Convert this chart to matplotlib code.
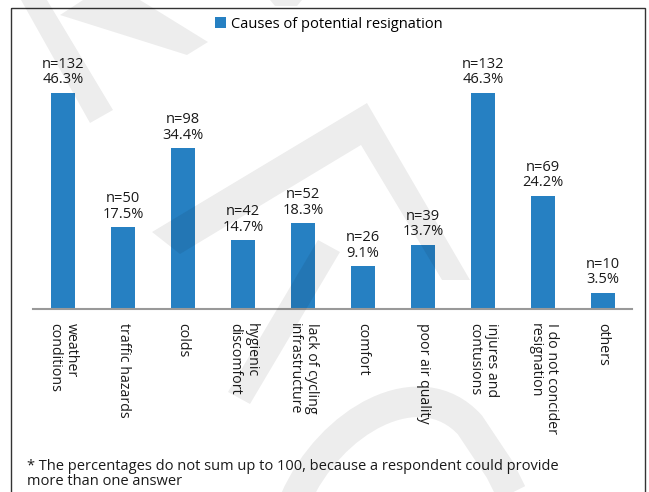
import matplotlib.pyplot as plt
from matplotlib.patches import Polygon, Rectangle, PathPatch
from matplotlib.path import Path

plt.rcParams['font.family'] = ['Open Sans', 'DejaVu Sans']

# survey answers
causes = ['weather\nconditions', 'traffic hazards', 'colds', 'hygienic\ndiscomfort',
          'lack of cycling\ninfrastructure', 'comfort', 'poor air quality',
          'injures and\ncontusions', 'I do not concider\nresignation', 'others']
counts = [132, 50, 98, 42, 52, 26, 39, 132, 69, 10]
percent = [46.3, 17.5, 34.4, 14.7, 18.3, 9.1, 13.7, 46.3, 24.2, 3.5]

W, H = 649, 492
fig = plt.figure(figsize=(W / 100, H / 100), dpi=100)

ax = fig.add_axes([33 / W, 1 - 309 / H, (632 - 33) / W, (309 - 52) / H])
ax.patch.set_alpha(0)
x = range(len(causes))
ax.bar(x, percent, width=0.4, color='#2680c2', label='Causes of potential resignation')
ax.set_xlim(-0.5, 9.48)
ax.set_ylim(0, 55)

for i, (n, p) in enumerate(zip(counts, percent)):
    ax.annotate(f'n={n}\n{p}%', (i, p), xytext=(0, 4), textcoords='offset points',
                ha='center', va='bottom', fontsize=10.5, linespacing=1.05, color='#1a1a1a')

ax.set_xticks(list(x))
ax.set_xticklabels(causes, rotation=-90, ha='center', va='top', fontsize=10.2,
                   linespacing=1.15, color='#1a1a1a')
for t in ax.get_xticklabels():
    t.set_multialignment('left')
ax.tick_params(axis='x', length=0, pad=10)
ax.set_yticks([])
for s in ['top', 'right', 'left']:
    ax.spines[s].set_visible(False)
ax.spines['bottom'].set_color('#999999')
ax.spines['bottom'].set_linewidth(1.5)

fig.legend(loc='center', bbox_to_anchor=(0.506, 0.951), frameon=False, fontsize=10.5,
           handlelength=0.8, handleheight=0.8, handletextpad=0.3, borderpad=0)

fig.text(27 / W, 1 - 459 / H,
         '* The percentages do not sum up to 100, because a respondent could provide\n'
         'more than one answer', ha='left', va='top', fontsize=10.5, linespacing=1.0,
         color='#1a1a1a')

# outer frame and the faint watermark on top
ov = fig.add_axes([0, 0, 1, 1], zorder=10)
ov.set_xlim(0, W)
ov.set_ylim(H, 0)
ov.axis('off')
ov.patch.set_alpha(0)
ov.add_patch(Rectangle((11, 8), 634, 500, fill=False, edgecolor='#333333', lw=1.0))

shade = dict(facecolor='k', edgecolor='none', alpha=0.07)
shapes = [
    [(21, 0), (47, 0), (113, 110), (90, 123)],
    [(60, 15), (83, 0), (140, 0), (208, 42), (187, 55)],
    [(270, 0), (302, 0), (297, 6), (275, 6)],
    [(152, 232), (367, 103), (470, 280), (442, 280), (361, 145), (180, 254)],
    [(228, 392), (318, 240), (340, 252), (250, 404)],
]
for pts in shapes:
    ov.add_patch(Polygon(pts, closed=True, **shade))

arch = Path([(295, 500), (330, 420), (420, 370), (470, 425), (500, 470), (515, 500)],
            [Path.MOVETO, Path.CURVE4, Path.CURVE4, Path.CURVE4, Path.LINETO, Path.LINETO])
ov.add_patch(PathPatch(arch, fill=False, edgecolor='k', alpha=0.07, lw=22, capstyle='butt'))

fig.savefig('out.png', dpi=100)
